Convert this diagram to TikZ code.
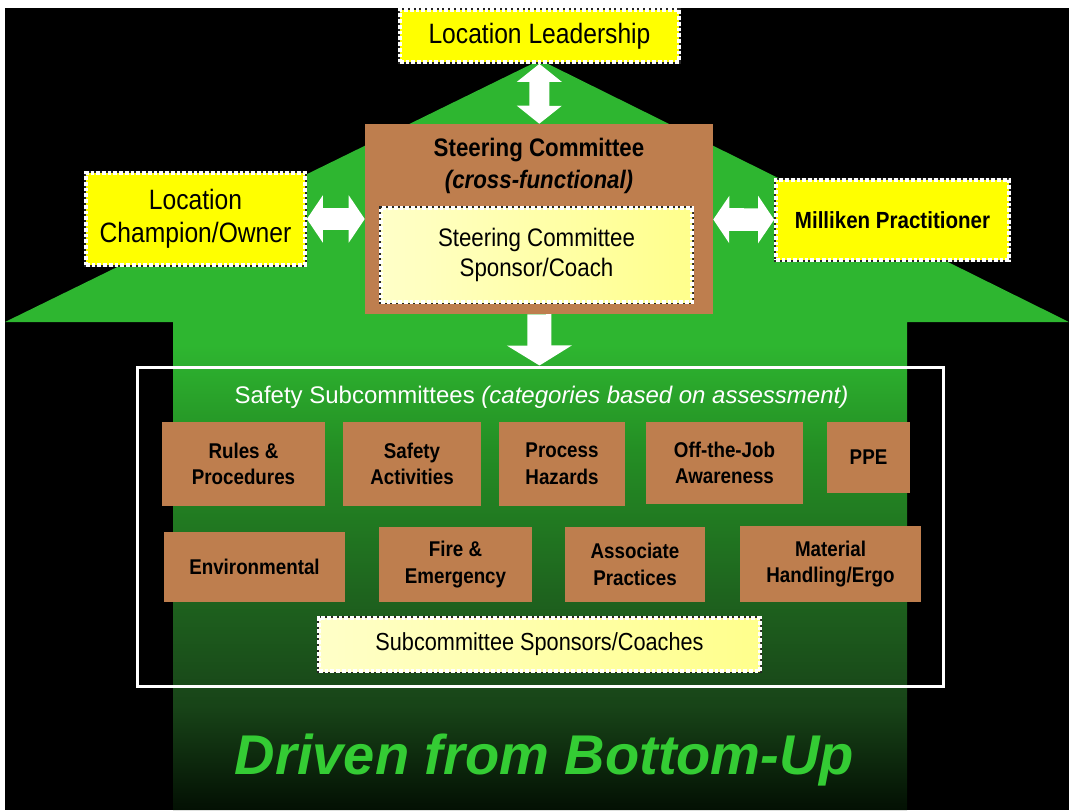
\documentclass[tikz,border=0pt]{standalone}
\usepackage{fontspec}
\setmainfont{Liberation Sans}
\newfontfamily\nrw[FakeStretch=0.88]{Liberation Sans}
\usepackage{tikz}
\usetikzlibrary{arrows.meta}
\definecolor{greenA}{RGB}{46,182,48}
\definecolor{greenB}{RGB}{36,142,36}
\definecolor{greenC}{RGB}{30,98,30}
\definecolor{greenD}{RGB}{24,68,24}
\definecolor{greenE}{RGB}{3,16,3}
\definecolor{boxbrown}{RGB}{190,126,78}
\definecolor{boxyellow}{RGB}{255,255,0}
\definecolor{softA}{RGB}{255,255,200}
\definecolor{softB}{RGB}{255,255,140}
\definecolor{drivegreen}{RGB}{52,204,52}
\pgfdeclareverticalshading{houseshade}{100bp}{color(0bp)=(greenE); color(25bp)=(greenE); color(32bp)=(greenD); color(39bp)=(greenC); color(49bp)=(greenB); color(56bp)=(greenA); color(100bp)=(greenA)}
\tikzstyle{house}=[x=0.75pt, y=-0.75pt]
\tikzstyle{yellowbox}=[rectangle, inner sep=0pt, align=center, fill=boxyellow, draw=white, line width=2.8pt, dash pattern=on 2.8pt off 1.5pt, preaction={draw=black!85, solid, line width=2.8pt}, font=\nrw\fontsize{21}{25}\selectfont]
\tikzstyle{softbox}=[yellowbox, left color=softA, right color=softB, font=\nrw\fontsize{19}{22.5}\selectfont]
\tikzstyle{steer}=[rectangle, inner sep=0pt, fill=boxbrown]
\tikzstyle{brownbox}=[rectangle, inner sep=0pt, align=center, fill=boxbrown, font=\nrw\bfseries\fontsize{16}{20}\selectfont]
\tikzstyle{frame}=[rectangle, inner sep=0pt, draw=white, line width=2.25pt]
\tikzstyle{fat}=[draw=white, line width=15pt, {Triangle[length=13.5pt,width=33pt]}-{Triangle[length=13.5pt,width=33pt]}]
\tikzstyle{fatside}=[draw=white, line width=17pt, {Triangle[length=12pt,width=35pt]}-{Triangle[length=12pt,width=35pt]}]
\tikzstyle{fatdown}=[draw=white, line width=18pt, -{Triangle[length=15pt,width=48pt]}]
\begin{document}
\begin{tikzpicture}[house]
	\useasboundingbox (0,0) rectangle (1069,810);
	\fill[white] (0,0) rectangle (1069,810);
	\fill[black] (5,8) rectangle (1069,810);
	\shade[shading=houseshade] (5,322) -- (540,60) -- (1069,322) -- (907,322) -- (907,810) -- (173,810) -- (173,322) -- cycle;
	%%
	\draw (539.5,36) node[yellowbox, minimum width=209.25pt, minimum height=39pt] (lead) {Location Leadership};
	\draw (195.5,219) node[yellowbox, minimum width=164.25pt, minimum height=69pt] (champ) {Location\\Champion/Owner};
	\draw (892.5,220) node[yellowbox, minimum width=174.75pt, minimum height=60pt, font=\nrw\bfseries\fontsize{17.5}{20}\selectfont] (milliken) {Milliken Practitioner};
	%%
	\draw (539,219) node[steer, minimum width=261pt, minimum height=142.5pt] (steer) {};
	\draw (539,166) node[align=center, font=\nrw\bfseries\fontsize{19}{24}\selectfont] (steertitle) {Steering Committee\\\textit{(cross-functional)}};
	\draw (536.5,255) node[softbox, minimum width=233.25pt, minimum height=70.5pt] (sponsor) {Steering Committee\\Sponsor/Coach};
	%%
	\draw[fat] (lead) -- (steer);
	\draw[fatside] (champ) -- (steer);
	\draw[fatside] (steer) -- (milliken);
	%%
	\draw (540,526.5) node[frame, minimum width=604.5pt, minimum height=239.25pt] (subs) {};
	\draw[fatdown] (steer) -- (subs);
	\draw (541.5,397) node[text=white, font=\fontsize{18}{20}\selectfont] (substitle) {Safety Subcommittees \textit{(categories based on assessment)}};
	%%
	\draw (243.5,464) node[brownbox, minimum width=122.25pt, minimum height=63pt] (rules) {Rules \&\\Procedures};
	\draw (412,464) node[brownbox, minimum width=103.5pt, minimum height=63pt] (activ) {Safety\\Activities};
	\draw (562,464) node[brownbox, minimum width=94.5pt, minimum height=63pt] (hazard) {Process\\Hazards};
	\draw (724.5,463) node[brownbox, minimum width=117.75pt, minimum height=61.5pt] (offjob) {Off-the-Job\\Awareness};
	\draw (868.5,457.5) node[brownbox, minimum width=62.25pt, minimum height=53.25pt] (ppe) {PPE};
	%%
	\draw (254.5,567) node[brownbox, minimum width=135.75pt, minimum height=52.5pt] (environ) {Environmental};
	\draw (455.5,564.5) node[brownbox, minimum width=114.75pt, minimum height=56.25pt] (fire) {Fire \&\\Emergency};
	\draw (635,564.5) node[brownbox, minimum width=105pt, minimum height=56.25pt] (assoc) {Associate\\Practices};
	\draw (830.5,564) node[brownbox, minimum width=135.75pt, minimum height=57pt] (material) {Material\\Handling/Ergo};
	%%
	\draw (539.5,644.5) node[softbox, minimum width=330.75pt, minimum height=39.75pt, font=\nrw\fontsize{18.5}{22}\selectfont] (coaches) {Subcommittee Sponsors/Coaches};
	%%
	\draw (544.5,760) node[text=drivegreen, font=\bfseries\itshape\fontsize{42}{46}\selectfont] (driven) {Driven from Bottom-Up};
\end{tikzpicture}
\end{document}
